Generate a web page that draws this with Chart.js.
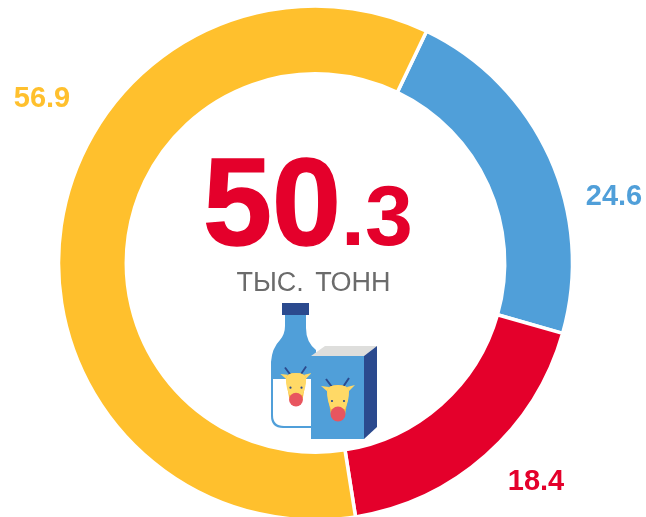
<!DOCTYPE html>
<html>
<head>
<meta charset="utf-8">
<style>
  html, body { margin: 0; padding: 0; background: #fff; }
  #wrap { position: relative; width: 646px; height: 517px; overflow: hidden; }
  #chart { position: absolute; left: 0; top: 0; }
</style>
<script src="https://cdn.jsdelivr.net/npm/chart.js@4"></script>
</head>
<body>
<div id="wrap"><canvas id="chart" width="646" height="517"></canvas></div>
<script>
const categories = ['Синий', 'Красный', 'Жёлтый'];
// slice sizes as drawn in the picture (they differ a bit from the printed labels)
const values = [22.3, 18.1, 59.6];
const valueLabels = ['24.6', '18.4', '56.9'];
const sliceColors = ['#509FD9', '#E4002B', '#FFC02D'];

// Center of the ring in the picture
const cx = 315.5, cy = 263;
const outerR = 257, innerR = 189;

const navy = '#2B4A8E';

// Text and small drawing in the middle + value labels
const overlay = {
  id: 'overlay',
  afterDraw(chart) {
    const c = chart.ctx;
    c.save();
    c.textBaseline = 'alphabetic';
    c.font = 'bold 29px "Liberation Sans"';
    c.textAlign = 'center';
    c.fillStyle = sliceColors[0]; c.fillText(valueLabels[0], 614, 205);
    c.fillStyle = sliceColors[1]; c.fillText(valueLabels[1], 536, 490);
    c.fillStyle = sliceColors[2]; c.fillText(valueLabels[2], 42, 107);

    c.fillStyle = '#E4002B';
    c.strokeStyle = '#E4002B';
    c.lineWidth = 1.5;
    c.textAlign = 'left';
    c.font = 'bold 124px "Liberation Sans"';
    c.fillText('50', 203, 245);
    c.strokeText('50', 203, 245);
    c.font = 'bold 86px "Liberation Sans"';
    c.fillText('.3', 341, 245);

    c.fillStyle = '#6B6B6B';
    c.textAlign = 'center';
    c.font = '27px "Liberation Sans"';
    c.wordSpacing = '4px';
    c.fillText('ТЫС. ТОНН', 313.5, 291);
    c.wordSpacing = '0px';

    drawBottle(c);
    drawBox(c);
    c.restore();
  }
};

// x, y = middle of the top of the head
function drawFace(c, x, y, s) {
  // horns
  c.strokeStyle = navy; c.lineWidth = 2 * s;
  c.beginPath();
  c.moveTo(x - 6*s, y + 2*s); c.lineTo(x - 12*s, y - 6*s);
  c.moveTo(x + 5*s, y + 2*s); c.lineTo(x + 11*s, y - 7*s);
  c.stroke();
  // ears
  c.fillStyle = '#FFD966';
  c.beginPath();
  c.moveTo(x - 9*s, y + 2*s); c.lineTo(x - 17*s, y + 1*s); c.lineTo(x - 10*s, y + 7*s); c.closePath();
  c.moveTo(x + 9*s, y + 2*s); c.lineTo(x + 17*s, y); c.lineTo(x + 10*s, y + 7*s); c.closePath();
  c.fill();
  // head
  c.fillStyle = '#F7B93E';
  c.beginPath();
  c.moveTo(x - 11*s, y + 6*s);
  c.quadraticCurveTo(x - 10*s, y, x, y);
  c.quadraticCurveTo(x + 10*s, y, x + 11*s, y + 6*s);
  c.lineTo(x + 7*s, y + 30*s); c.lineTo(x - 7*s, y + 30*s);
  c.closePath(); c.fill();
  c.fillStyle = '#FFD966';
  c.beginPath();
  c.moveTo(x - 11*s, y + 6*s);
  c.quadraticCurveTo(x - 10*s, y, x, y);
  c.quadraticCurveTo(x + 10*s, y, x + 11*s, y + 6*s);
  c.quadraticCurveTo(x + 11*s, y + 16*s, x + 7*s, y + 24*s);
  c.lineTo(x - 7*s, y + 24*s);
  c.quadraticCurveTo(x - 11*s, y + 16*s, x - 11*s, y + 6*s);
  c.closePath(); c.fill();
  // eyes
  c.fillStyle = navy;
  c.beginPath();
  c.arc(x - 6*s, y + 16*s, 1.1, 0, Math.PI*2);
  c.arc(x + 6*s, y + 16*s, 1.1, 0, Math.PI*2);
  c.fill();
  // muzzle
  c.fillStyle = '#E8555F';
  c.beginPath(); c.arc(x, y + 29*s, 7.5*s, 0, Math.PI*2); c.fill();
}

function drawBottle(c) {
  c.fillStyle = sliceColors[0];
  c.beginPath();
  c.moveTo(285, 314); c.lineTo(306, 314); c.lineTo(306, 328);
  c.quadraticCurveTo(306, 342, 316, 350);
  c.lineTo(316, 428); c.lineTo(283, 428);
  c.quadraticCurveTo(271, 428, 271, 416);
  c.lineTo(271, 362);
  c.quadraticCurveTo(272, 348, 280, 340);
  c.quadraticCurveTo(285, 334, 285, 326);
  c.closePath(); c.fill();
  // milk
  c.fillStyle = '#FFFFFF';
  c.beginPath();
  c.moveTo(273, 379); c.lineTo(316, 379); c.lineTo(316, 426); c.lineTo(284, 426);
  c.quadraticCurveTo(273, 426, 273, 415);
  c.closePath(); c.fill();
  // cap
  c.fillStyle = navy;
  c.fillRect(282, 303, 27, 12);
  drawFace(c, 296, 373, 0.92);
}

function drawBox(c) {
  c.fillStyle = '#DEDEDC';
  c.beginPath(); c.moveTo(311, 356); c.lineTo(325, 346); c.lineTo(377, 346); c.lineTo(364, 356); c.closePath(); c.fill();
  c.fillStyle = sliceColors[0];
  c.fillRect(311, 356, 53, 83);
  c.fillStyle = navy;
  c.beginPath(); c.moveTo(364, 356); c.lineTo(377, 346); c.lineTo(377, 427); c.lineTo(364, 439); c.closePath(); c.fill();
  drawFace(c, 338, 385, 1);
}

new Chart(document.getElementById('chart'), {
  type: 'doughnut',
  data: {
    labels: categories,
    datasets: [{
      data: values,
      backgroundColor: sliceColors,
      borderColor: '#ffffff',
      borderWidth: 3.5
    }]
  },
  options: {
    responsive: false,
    animation: false,
    rotation: 25.6,
    radius: outerR,
    cutout: innerR,
    layout: { padding: 0 },
    plugins: { legend: { display: false }, tooltip: { enabled: false } }
  },
  plugins: [overlay, {
    id: 'moveCenter',
    beforeDatasetsDraw(chart) {
      chart.ctx.save();
      chart.ctx.translate(cx - chart.width / 2, cy - chart.height / 2);
    },
    afterDatasetsDraw(chart) { chart.ctx.restore(); }
  }]
});
</script>
</body>
</html>
